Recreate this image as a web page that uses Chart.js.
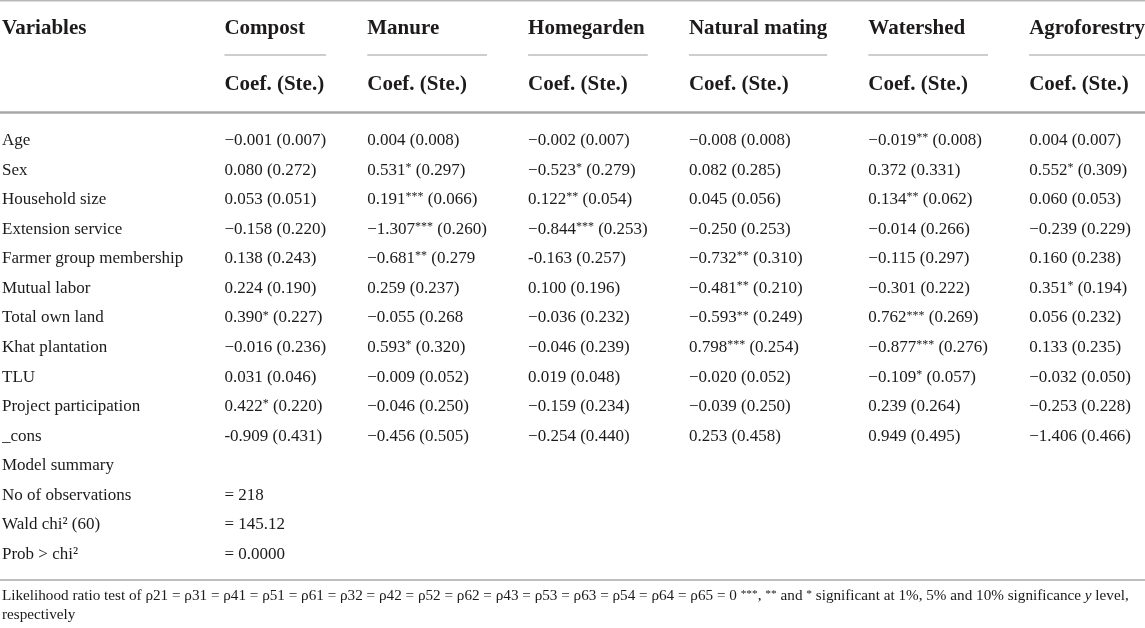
<!DOCTYPE html>
<html>
<head>
<meta charset="utf-8">
<script src="https://cdn.jsdelivr.net/npm/chart.js@4.4.1/dist/chart.umd.min.js"></script>
<style>
  html, body { margin: 0; padding: 0; background: #ffffff; }
  #wrap { position: relative; width: 1145px; height: 628px; }
</style>
</head>
<body>
<div id="wrap"><canvas id="c"></canvas></div>
<script>
// ---------------- DATA ----------------
const firstHeader = 'Variables';
const practices = ['Compost', 'Manure', 'Homegarden', 'Natural mating', 'Watershed', 'Agroforestry'];
const subHeader = 'Coef. (Ste.)';

const rowLabels = ['Age', 'Sex', 'Household size', 'Extension service', 'Farmer group membership',
  'Mutual labor', 'Total own land', 'Khat plantation', 'TLU', 'Project participation', '_cons',
  'Model summary', 'No of observations', 'Wald chi\u00B2 (60)', 'Prob > chi\u00B2'];

const compost = ['\u22120.001 (0.007)', '0.080 (0.272)', '0.053 (0.051)', '\u22120.158 (0.220)', '0.138 (0.243)',
  '0.224 (0.190)', '0.390* (0.227)', '\u22120.016 (0.236)', '0.031 (0.046)', '0.422* (0.220)', '-0.909 (0.431)'];
const manure = ['0.004 (0.008)', '0.531* (0.297)', '0.191*** (0.066)', '\u22121.307*** (0.260)', '\u22120.681** (0.279',
  '0.259 (0.237)', '\u22120.055 (0.268', '0.593* (0.320)', '\u22120.009 (0.052)', '\u22120.046 (0.250)', '\u22120.456 (0.505)'];
const homegarden = ['\u22120.002 (0.007)', '\u22120.523* (0.279)', '0.122** (0.054)', '\u22120.844*** (0.253)', '-0.163 (0.257)',
  '0.100 (0.196)', '\u22120.036 (0.232)', '\u22120.046 (0.239)', '0.019 (0.048)', '\u22120.159 (0.234)', '\u22120.254 (0.440)'];
const naturalMating = ['\u22120.008 (0.008)', '0.082 (0.285)', '0.045 (0.056)', '\u22120.250 (0.253)', '\u22120.732** (0.310)',
  '\u22120.481** (0.210)', '\u22120.593** (0.249)', '0.798*** (0.254)', '\u22120.020 (0.052)', '\u22120.039 (0.250)', '0.253 (0.458)'];
const watershed = ['\u22120.019** (0.008)', '0.372 (0.331)', '0.134** (0.062)', '\u22120.014 (0.266)', '\u22120.115 (0.297)',
  '\u22120.301 (0.222)', '0.762*** (0.269)', '\u22120.877*** (0.276)', '\u22120.109* (0.057)', '0.239 (0.264)', '0.949 (0.495)'];
const agroforestry = ['0.004 (0.007)', '0.552* (0.309)', '0.060 (0.053)', '\u22120.239 (0.229)', '0.160 (0.238)',
  '0.351* (0.194)', '0.056 (0.232)', '0.133 (0.235)', '\u22120.032 (0.050)', '\u22120.253 (0.228)', '\u22121.406 (0.466)'];

const summaryRows = ['No of observations', 'Wald chi\u00B2 (60)', 'Prob > chi\u00B2'];
const summaryValues = ['= 218', '= 145.12', '= 0.0000'];

const footnoteParts = [
  ['Likelihood ratio test of \u03C121 = \u03C131 = \u03C141 = \u03C151 = \u03C161 = \u03C132 = \u03C142 = \u03C152 = \u03C162 = \u03C143 = \u03C153 = \u03C163 = \u03C154 = \u03C164 = \u03C165 = 0 ', 'n'],
  ['***', 's'], [', ', 'n'], ['**', 's'], [' and ', 'n'], ['*', 's'],
  [' significant at 1%, 5% and 10% significance ', 'n'], ['y', 'i'], [' level,', 'n']
];
const footnoteLine2 = 'respectively';

const columnValues = [compost, manure, homegarden, naturalMating, watershed, agroforestry];

// ---------------- STYLE / LAYOUT ----------------
const FAMILY = "'Liberation Serif', 'Times New Roman', serif";
const INK = '#1c1a1b';
const BODY = 17, HEAD = 21, STAR = 12, FOOT = 15.2;
const W = 1145, LEFT_PAD = 2;

function fnt(size, weight, style) {
  return (style || 'normal') + ' ' + (weight || 'normal') + ' ' + size + 'px ' + FAMILY;
}

// draw (or measure) a cell: coefficient, superscript stars, remainder
function drawCell(ctx, text, x, y, measureOnly) {
  const m = text.match(/^([^*\s]+)(\*+)?(.*)$/);
  const parts = m ? [[m[1], 'n'], [m[2] || '', 's'], [m[3] || '', 'n']] : [[text, 'n']];
  let cx = x;
  ctx.textAlign = 'left';
  ctx.textBaseline = 'middle';
  for (const [t, kind] of parts) {
    if (!t) continue;
    if (kind === 's') {
      ctx.font = fnt(STAR);
      if (!measureOnly) ctx.fillText(t, cx, y - 2.5);
    } else {
      ctx.font = fnt(BODY);
      if (!measureOnly) ctx.fillText(t, cx, y);
    }
    cx += ctx.measureText(t).width;
  }
  return cx - x;
}

// measure column content widths from the content itself
const mctx = document.createElement('canvas').getContext('2d');
const contentW = [];
{
  mctx.font = fnt(HEAD, 'bold');
  let w0 = mctx.measureText(firstHeader).width;
  mctx.font = fnt(BODY);
  rowLabels.forEach(l => { w0 = Math.max(w0, mctx.measureText(l).width); });
  contentW.push(w0);
  columnValues.forEach((vals, j) => {
    mctx.font = fnt(HEAD, 'bold');
    let w = Math.max(mctx.measureText(practices[j]).width, mctx.measureText(subHeader).width);
    vals.forEach(v => { w = Math.max(w, drawCell(mctx, v, 0, 0, true)); });
    if (j === 0) summaryValues.forEach(v => { w = Math.max(w, drawCell(mctx, v, 0, 0, true)); });
    contentW.push(w);
  });
}
const totalContent = contentW.reduce((a, b) => a + b, 0);
const GAP = (W - LEFT_PAD - totalContent) / practices.length;
const colLeft = [0];
for (let j = 1; j < practices.length; j++) colLeft.push(colLeft[j - 1] + contentW[j] + GAP);
const xMax = colLeft[practices.length - 1] + contentW[practices.length];

// vertical layout (offsets from first / last body row)
const FIRST_ROW = 140.5, LAST_ROW = 554.5;
const OFF = { top: -139.75, head1: -111.5, underline: -85.5, head2: -55.5, thick: -28,
              bottom: 25.5, foot1: 42, foot2: 60.5 };

// ---------------- DATASETS ----------------
const datasets = columnValues.map((vals, j) => ({
  label: practices[j],
  cells: vals,
  data: vals.map((v, i) => ({ x: colLeft[j], y: rowLabels[i] })),
  pointRadius: 0, pointHoverRadius: 0
}));
datasets.push({
  label: 'summary',
  cells: summaryValues,
  data: summaryRows.map(r => ({ x: colLeft[0], y: r })),
  pointRadius: 0, pointHoverRadius: 0
});

function hline(ctx, x1, x2, y, color, lw) {
  ctx.save();
  ctx.strokeStyle = color; ctx.lineWidth = lw;
  ctx.beginPath(); ctx.moveTo(x1, y); ctx.lineTo(x2, y); ctx.stroke();
  ctx.restore();
}

const tablePlugin = {
  id: 'tablePlugin',
  afterDatasetsDraw(chart) {
    const ctx = chart.ctx;
    ctx.save();
    ctx.fillStyle = INK;
    chart.data.datasets.forEach((ds, di) => {
      const meta = chart.getDatasetMeta(di);
      meta.data.forEach((el, i) => { drawCell(ctx, ds.cells[i], el.x, el.y, false); });
    });
    ctx.restore();
  },
  afterDraw(chart) {
    const ctx = chart.ctx;
    const xs = chart.scales.x, ys = chart.scales.y;
    const y0 = ys.getPixelForValue(0);
    const yL = ys.getPixelForValue(rowLabels.length - 1);
    ctx.save();
    // rules
    hline(ctx, 0, W, y0 + OFF.top, '#b9b9b9', 1.5);
    hline(ctx, 0, W, y0 + OFF.thick, '#a8a8a8', 2.5);
    hline(ctx, 0, W, yL + OFF.bottom, '#a8a8a8', 1.5);
    // headers
    ctx.fillStyle = INK;
    ctx.textAlign = 'left';
    ctx.textBaseline = 'middle';
    ctx.font = fnt(HEAD, 'bold');
    ctx.fillText(firstHeader, ys.left, y0 + OFF.head1);
    practices.forEach((p, j) => {
      const x = xs.getPixelForValue(colLeft[j]);
      ctx.font = fnt(HEAD, 'bold');
      ctx.fillText(p, x, y0 + OFF.head1);
      ctx.fillText(subHeader, x, y0 + OFF.head2);
      const x2 = (j === practices.length - 1) ? W : x + contentW[j + 1];
      hline(ctx, x, x2, y0 + OFF.underline, '#bdbdbd', 1.5);
    });
    // footnote
    ctx.fillStyle = INK;
    let x = ys.left;
    footnoteParts.forEach(([t, k]) => {
      if (k === 's') { ctx.font = fnt(FOOT * 0.75); ctx.fillText(t, x, yL + OFF.foot1 - 2.5); }
      else if (k === 'i') { ctx.font = fnt(FOOT, 'normal', 'italic'); ctx.fillText(t, x, yL + OFF.foot1); }
      else { ctx.font = fnt(FOOT); ctx.fillText(t, x, yL + OFF.foot1); }
      x += ctx.measureText(t).width;
    });
    ctx.font = fnt(FOOT);
    ctx.fillText(footnoteLine2, ys.left, yL + OFF.foot2);
    ctx.restore();
  }
};

new Chart(document.getElementById('c'), {
  type: 'scatter',
  data: { datasets },
  options: {
    responsive: true,
    maintainAspectRatio: false,
    animation: false,
    events: [],
    layout: { padding: { top: FIRST_ROW, bottom: 628 - LAST_ROW, left: LEFT_PAD, right: 0 } },
    plugins: { legend: { display: false }, tooltip: { enabled: false } },
    scales: {
      x: { type: 'linear', display: false, min: 0, max: xMax },
      y: {
        type: 'category',
        labels: rowLabels,
        offset: false,
        grid: { display: false },
        border: { display: false },
        afterFit(scale) { scale.width = contentW[0] + GAP; },
        ticks: {
          autoSkip: false,
          crossAlign: 'far',
          padding: 0,
          color: INK,
          font: { family: FAMILY, size: BODY }
        }
      }
    }
  },
  plugins: [tablePlugin]
});
</script>
</body>
</html>
